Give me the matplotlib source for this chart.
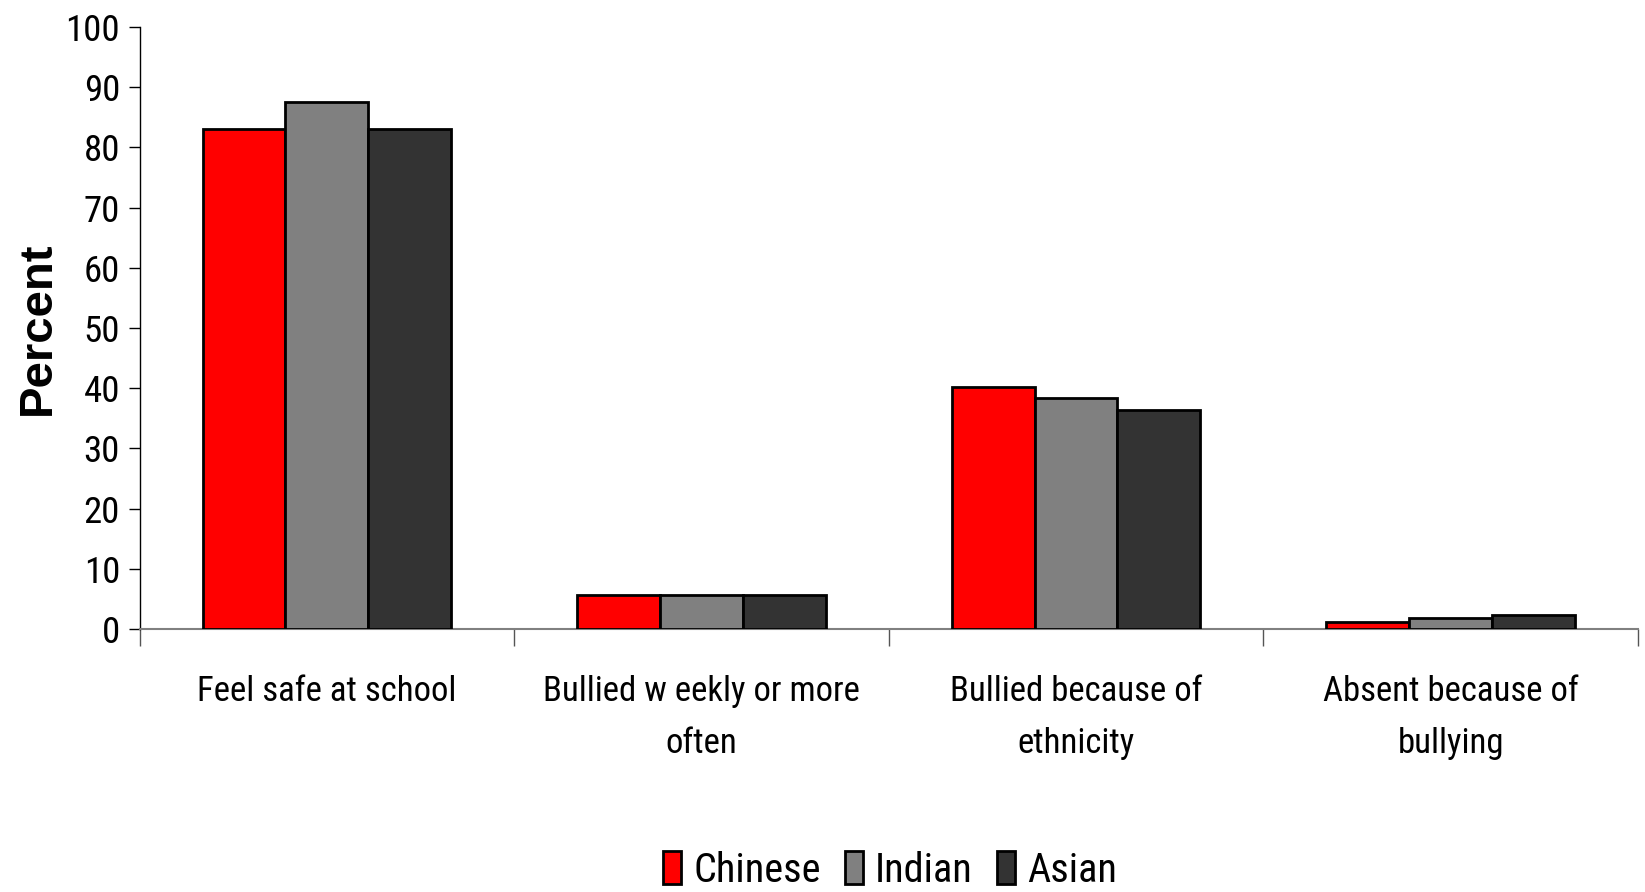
import matplotlib
matplotlib.use("Agg")
import matplotlib.pyplot as plt
import numpy as np
from matplotlib import font_manager
from matplotlib.font_manager import FontProperties

categories = ["Feel safe at school", "Bullied w eekly or more\noften",
              "Bullied because of\nethnicity", "Absent because of\nbullying"]
series_names = ["Chinese", "Indian", "Asian"]
chinese = [83.1, 5.6, 40.2, 1.2]
indian = [87.5, 5.6, 38.3, 1.8]
asian = [83.1, 5.6, 36.4, 2.4]
colors = ["#FF0000", "#808080", "#333333"]
yticks = list(range(0, 101, 10))

# look for a narrow / condensed sans face
cond = None
for f in font_manager.fontManager.ttflist:
    n = f.name
    if ("Narrow" in n or "Condensed" in n or f.stretch in ("condensed", "semi-condensed")) \
            and f.weight in (400, "normal", "regular") and f.style == "normal":
        if cond is None or "Narrow" in n or "Roboto" in n:
            cond = f
plt.rcParams['font.family'] = ['Liberation Sans', 'DejaVu Sans']

def fp(size, weight="normal"):
    if cond is not None and weight == "normal":
        return FontProperties(fname=cond.fname, size=size)
    return FontProperties(family=['Liberation Sans', 'DejaVu Sans'], size=size, weight=weight)

fig = plt.figure(figsize=(16.45, 8.92), dpi=100)
ax = fig.add_axes([139.5/1645, 1 - 629/892, (1638-139.5)/1645, (629-27)/892])

x = np.arange(len(categories))
w = 0.221
for i, (vals, name) in enumerate(zip([chinese, indian, asian], series_names)):
    ax.bar(x + (i - 1) * w, vals, width=w, color=colors[i], edgecolor="black",
           linewidth=2, label=name, zorder=3)

ax.set_xlim(-0.5, len(categories) - 0.5)
ax.set_ylim(0, 100)
ax.set_yticks(yticks)
ax.set_yticklabels([str(t) for t in yticks], fontproperties=fp(26.5))
ax.tick_params(axis='y', direction='out', length=8, width=1, pad=6)

ax.set_xticks(np.arange(len(categories) + 1) - 0.5, minor=False)
ax.set_xticklabels([])
ax.tick_params(axis='x', direction='out', length=12, width=1, color="#555555")
for xi, c in zip(x, categories):
    ax.text(xi, -7.6, c, ha='center', va='top', fontproperties=fp(25), linespacing=1.75)

for s in ["top", "right"]:
    ax.spines[s].set_visible(False)
ax.spines["bottom"].set_color("#808080")
ax.spines["bottom"].set_linewidth(1.5)
ax.spines["left"].set_linewidth(1)

ax.set_ylabel("Percent", fontproperties=fp(34, "bold"), labelpad=4)

leg = fig.legend(loc='center', bbox_to_anchor=(0.541, 1 - 870/892), ncol=3,
                 frameon=False, prop=fp(29), handlelength=0.45, handleheight=0.9,
                 handletextpad=0.3, columnspacing=0.6)

fig.savefig("out.png", dpi=100)
